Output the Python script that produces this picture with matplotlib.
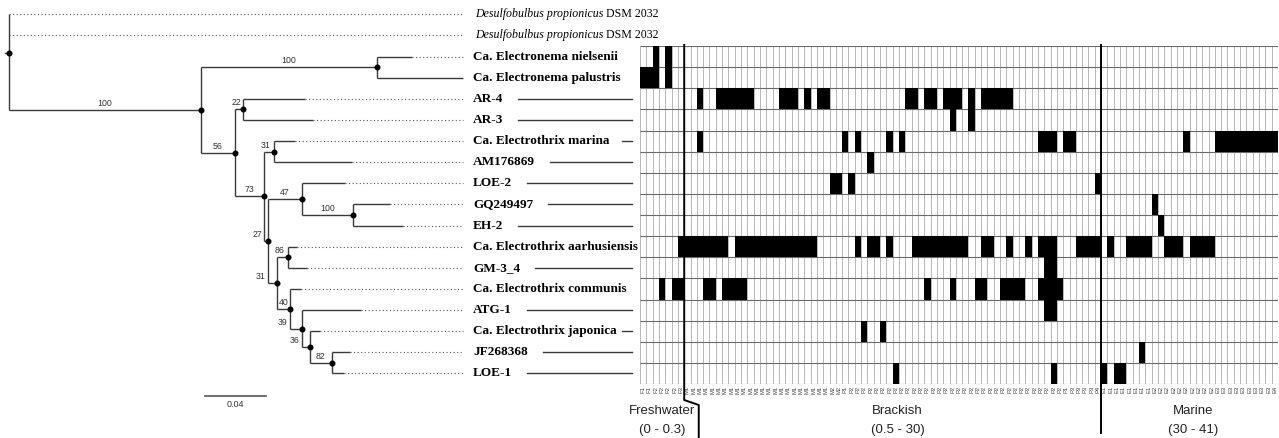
import numpy as np
import matplotlib
matplotlib.use("Agg")
import matplotlib.pyplot as plt
from matplotlib.colors import ListedColormap

# ---------------------------------------------------------------- data
outgroup_species = "Desulfobulbus propionicus"
outgroup_strain = "DSM 2032"

taxa = [
    "Ca. Electronema nielsenii", "Ca. Electronema palustris", "AR-4", "AR-3",
    "Ca. Electrothrix marina", "AM176869", "LOE-2", "GQ249497", "EH-2",
    "Ca. Electrothrix aarhusiensis", "GM-3_4", "Ca. Electrothrix communis",
    "ATG-1", "Ca. Electrothrix japonica", "JF268368", "LOE-1",
]

OUT = "OUTGROUP"
# internal node = (branch length, bootstrap, [children]);  leaf = (branch length, name)
tree = (0.0, None, [
    (0.0, OUT),
    (0.0, OUT),
    (0.1259, "100", [
        (0.1154, "100", [(0.0230, taxa[0]), (0.0564, taxa[1])]),
        (0.0223, "56", [
            (0.0052, "22", [(0.0407, taxa[2]), (0.0459, taxa[3])]),
            (0.0190, "73", [
                (0.0066, "31", [(0.0138, taxa[4]), (0.0511, taxa[5])]),
                (0.0026, "27", [
                    (0.0223, "47", [
                        (0.0282, taxa[6]),
                        (0.0334, "100", [(0.0243, taxa[7]), (0.0328, taxa[8])]),
                    ]),
                    (0.0059, "31", [
                        (0.0072, "86", [(0.0059, taxa[9]), (0.0125, taxa[10])]),
                        (0.0085, "40", [
                            (0.0072, taxa[11]),
                            (0.0079, "39", [
                                (0.0387, taxa[12]),
                                (0.0052, "36", [
                                    (0.0066, taxa[13]),
                                    (0.0144, "82", [(0.0118, taxa[14]), (0.0079, taxa[15])]),
                                ]),
                            ]),
                        ]),
                    ]),
                ]),
            ]),
        ]),
    ]),
])

scale_bar_value = 0.04

# sample columns of the presence/absence matrix (label, number of columns)
column_groups = [
    ("F1", 2), ("F2", 4), ("F3", 1),
    ("M1", 23), ("M2", 2), ("P1", 1), ("P2", 34), ("P1", 1), ("P3", 4), ("P4", 1),
    ("E1", 8), ("E2", 10), ("E3", 9), ("E4", 1),
]
habitats = ["Freshwater", "Brackish", "Marine"]
salinity = ["(0 - 0.3)", "(0.5 - 30)", "(30 - 41)"]
habitat_of_prefix = {"F": 0, "M": 1, "P": 1, "E": 2}

# columns (0-based) in which each taxon (row) was detected
presence = [
    [2, 4],
    [0, 1, 2, 4],
    [9, 12, 13, 14, 15, 16, 17, 22, 23, 24, 26, 28, 29, 42, 43, 45, 46, 48, 49, 50,
     52, 54, 55, 56, 57, 58],
    [49, 52],
    [9, 32, 34, 39, 41, 63, 64, 65, 67, 68, 86, 91, 92, 93, 94, 95, 96, 97, 98, 99, 100],
    [36],
    [30, 31, 33, 72],
    [81],
    [82],
    [6, 7, 8, 9, 10, 11, 12, 13, 15, 16, 17, 18, 19, 20, 21, 22, 23, 24, 25, 26, 27,
     34, 36, 37, 39, 43, 44, 45, 46, 47, 48, 49, 50, 51, 54, 55, 58, 61, 63, 64, 65,
     69, 70, 71, 72, 74, 77, 78, 79, 80, 83, 84, 85, 87, 88, 89, 90],
    [64, 65],
    [3, 5, 6, 10, 11, 13, 14, 15, 16, 45, 49, 53, 54, 57, 58, 59, 60, 63, 64, 65, 66],
    [64, 65],
    [35, 38],
    [79],
    [40, 65, 73, 75, 76],
]

# ---------------------------------------------------------------- layout
W, H, DPI = 1279, 438, 100
PX_PER_UNIT = 1525.0      # tree scale (px per substitution/site)
ROOT_PX = 9.0
ROW_PX = 21.125
Y0_PX = 56.55 - 2 * ROW_PX
HM_LEFT, HM_RIGHT, HM_TOP, HM_BOTTOM = 640, 1278, 46, 384
DOT_END_PX, TEXT_PX, CONNECT_END_PX = 463, 473, 632

SERIF = "Liberation Serif"
SANS = "Liberation Sans"
LINE_C = "#3a3a3a"

fig = plt.figure(figsize=(W / DPI, H / DPI), dpi=DPI)
axt = fig.add_axes([0, 0, 1, 1])
axt.set_xlim(-ROOT_PX / PX_PER_UNIT, (W - ROOT_PX) / PX_PER_UNIT)
axt.set_ylim((H - Y0_PX) / ROW_PX, -Y0_PX / ROW_PX)
axt.axis("off")


def px2x(px):
    return (px - ROOT_PX) / PX_PER_UNIT


leaves, nodes, hsegs, vsegs = [], [], [], []
counter = [0]


def walk(node, parent_x, is_lower):
    x = parent_x + node[0]
    if len(node) == 2:
        y = counter[0]
        counter[0] += 1
        leaves.append((x, y, node[1]))
        hsegs.append((parent_x, x, y))
        return y
    n = len(node[2])
    ys = [walk(c, x, k == n - 1) for k, c in enumerate(node[2])]
    y = float(np.mean(ys))
    vsegs.append((x, min(ys), max(ys)))
    if node[0] > 0:
        hsegs.append((parent_x, x, y))
    nodes.append(dict(x=x, y=y, support=node[1], parent_x=parent_x, lower=is_lower))
    return y


walk(tree, 0.0, False)

for x0, x1, y in hsegs:
    if x1 > x0:
        axt.plot([x0, x1], [y, y], color=LINE_C, lw=1.0, solid_capstyle="butt")
for x, y0, y1 in vsegs:
    axt.plot([x, x], [y0, y1], color=LINE_C, lw=1.0, solid_capstyle="butt")
# root stub
root = [n for n in nodes if n["support"] is None][0]
axt.plot([px2x(5), 0], [root["y"], root["y"]], color=LINE_C, lw=1.0)
axt.plot([n["x"] for n in nodes], [n["y"] for n in nodes], "o", ms=3.3,
         color="black", zorder=5)

# bootstrap labels
for n in nodes:
    if n["support"] is None:
        continue
    br_px = (n["x"] - n["parent_x"]) * PX_PER_UNIT
    lab_w = 4.6 * len(n["support"])
    mid = (n["x"] + n["parent_x"]) / 2
    if br_px >= lab_w + 3:
        xx, ha = mid, "center"
    elif n["lower"]:
        xx, ha = n["parent_x"] - 2 / PX_PER_UNIT, "right"
    else:
        xx, ha = mid - 3 / PX_PER_UNIT, "center"
    axt.annotate(n["support"], (xx, n["y"]), xytext=(0, 1.4),
                 textcoords="offset points", ha=ha, va="bottom",
                 fontsize=6.3, family=SANS, color="#333333")

# dotted guides and names
leaf_texts = []
for x, y, name in leaves:
    if x * PX_PER_UNIT < (DOT_END_PX - ROOT_PX) - 2:
        axt.plot([x, px2x(DOT_END_PX)], [y, y], color="#555555", lw=0.8,
                 linestyle=(0, (1, 2.2)))
    if name == OUT:
        t = axt.text(px2x(TEXT_PX + 2), y, outgroup_species, va="center", ha="left",
                     fontsize=8.6, family=SERIF, style="italic")
        leaf_texts.append((t, y, True))
    else:
        t = axt.text(px2x(TEXT_PX), y, name, va="center", ha="left",
                     fontsize=9.5, family=SERIF, weight="bold")
        leaf_texts.append((t, y, False))

# scale bar
sb_x0 = px2x(205)
sb_y = (395.7 - Y0_PX) / ROW_PX
axt.plot([sb_x0, sb_x0 + scale_bar_value], [sb_y, sb_y], color="#555555", lw=1.2)
axt.annotate(f"{scale_bar_value:g}", (sb_x0 + scale_bar_value / 2, sb_y),
             xytext=(0, -3), textcoords="offset points", ha="center", va="top",
             fontsize=6.5, family=SANS, color="#333333")

# ---------------------------------------------------------------- heatmap
col_labels = [lab for lab, n in column_groups for _ in range(n)]
n_cols, n_rows = len(col_labels), len(presence)
mat = np.zeros((n_rows, n_cols))
for r, cols in enumerate(presence):
    mat[r, cols] = 1

axh = fig.add_axes([HM_LEFT / W, (H - HM_BOTTOM) / H,
                    (HM_RIGHT - HM_LEFT) / W, (HM_BOTTOM - HM_TOP) / H])
axh.set_xlim(0, n_cols)
axh.set_ylim(n_rows, 0)
axh.vlines(np.arange(n_cols + 1), 0, n_rows, color="#b2b2b2", lw=0.65, zorder=1)
axh.hlines(np.arange(n_rows + 1), 0, n_cols, color="#6a6a6a", lw=0.8, zorder=1)
axh.pcolormesh(np.arange(n_cols + 1), np.arange(n_rows + 1),
               np.ma.masked_equal(mat, 0), cmap=ListedColormap(["black"]),
               vmin=0, vmax=1, zorder=2)
for s in axh.spines.values():
    s.set_visible(False)
axh.set_yticks([])
axh.set_xticks(np.arange(n_cols) + 0.5)
axh.set_xticklabels(col_labels, rotation=90, fontsize=4.2, family=SANS,
                    color="#444444")
axh.tick_params(length=0, pad=1.5)

# habitat spans
hab_idx = [habitat_of_prefix[lab[0]] for lab in col_labels]
bounds = [hab_idx.index(k) for k in range(len(habitats))] + [n_cols]


def py(px):
    return (px - HM_TOP) / ROW_PX


fw = bounds[1]
axh.plot([fw, fw, fw + 2.3, fw + 2.3], [py(45), py(400), py(405), py(437)],
         color="black", lw=1.4, clip_on=False, zorder=4)
mr = bounds[2]
axh.plot([mr, mr], [py(45), py(433)], color="black", lw=1.4, clip_on=False, zorder=4)

label_shift = [0.0, 0.8, 0.5]
for k in range(len(habitats)):
    cx = (bounds[k] + bounds[k + 1]) / 2 + label_shift[k]
    axh.text(cx, py(411), habitats[k], ha="center", va="center", fontsize=9.5,
             family=SANS, color="#222222", clip_on=False)
    axh.text(cx, py(430), salinity[k], ha="center", va="center", fontsize=9.5,
             family=SANS, color="#222222", clip_on=False)

# ---------------------------------------------------------------- text-dependent pieces
fig.canvas.draw()
renderer = fig.canvas.get_renderer()
inv = axt.transData.inverted()
for t, y, is_out in leaf_texts:
    bb = t.get_window_extent(renderer)
    if is_out:
        xs = inv.transform((bb.x1, 0))[0]
        axt.text(xs, y, " " + outgroup_strain, va="center", ha="left",
                 fontsize=8.6, family=SERIF)
        continue
    end_px = bb.x1
    if end_px + 5 > 622:
        continue
    start_px = min(end_px + 15, 622)
    axt.plot([px2x(start_px), px2x(CONNECT_END_PX)], [y, y], color=LINE_C, lw=1.0)

fig.savefig("out.png", dpi=DPI)
